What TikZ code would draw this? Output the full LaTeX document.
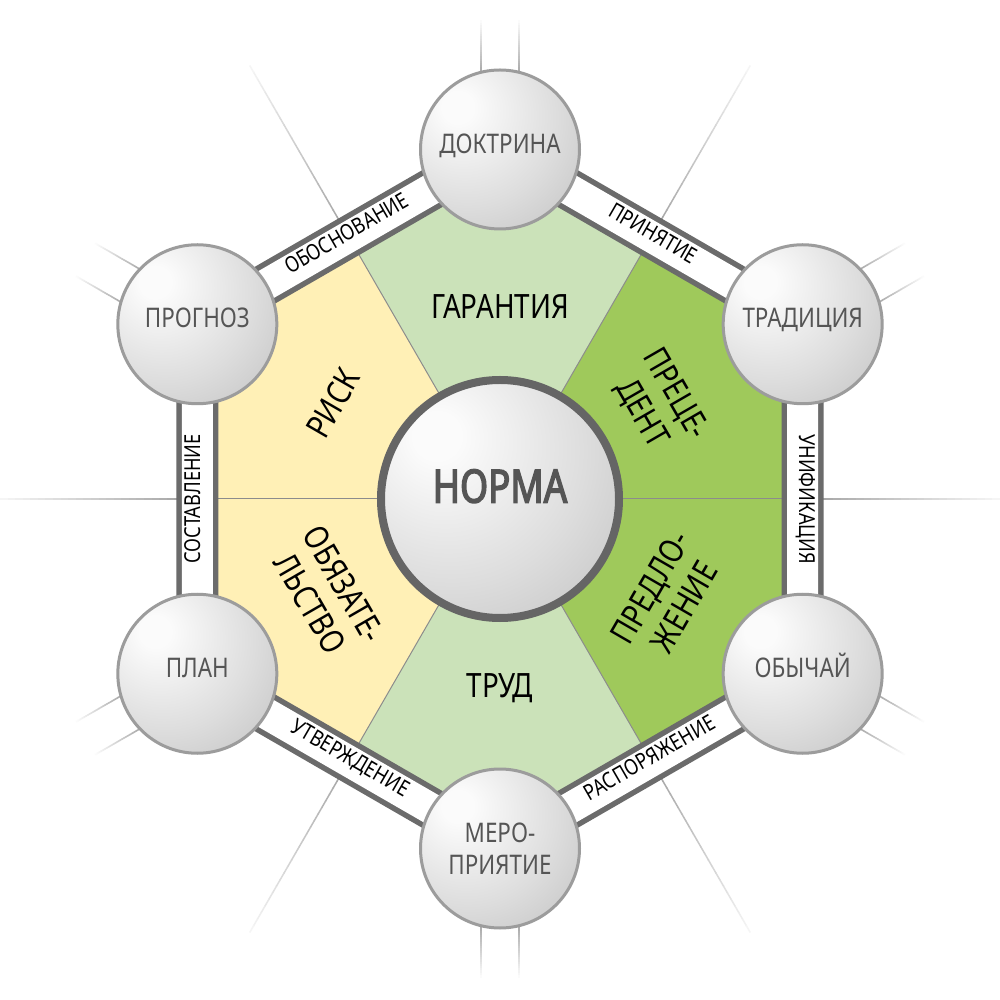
\documentclass[tikz,border=0pt]{standalone}
\usepackage{fontspec}
\setmainfont{Noto Sans}[FakeStretch=0.83]
\newfontfamily\normafont{Noto Sans}[FakeStretch=0.8, FakeBold=3]

\definecolor{cyellow}{HTML}{FFF0B6}
\definecolor{clgreen}{HTML}{CBE2B9}
\definecolor{cgreen}{HTML}{9FC95B}
\definecolor{cband}{HTML}{6B6B6B}
\definecolor{cring}{HTML}{9C9C9C}
\definecolor{cnorm}{HTML}{656565}
\definecolor{ctext}{HTML}{555555}
\definecolor{cdiv}{HTML}{8C8C8C}
\definecolor{cray}{HTML}{A8A8A8}
\definecolor{sphA}{HTML}{FBFBFB}
\definecolor{sphB}{HTML}{DDDDDD}
\definecolor{sphC}{HTML}{BDBDBD}

\pgfdeclareradialshading{sphere}{\pgfpoint{-14bp}{14bp}}{%
  color(0bp)=(sphA); color(5bp)=(sphA); color(28bp)=(sphB); color(50bp)=(sphC); color(100bp)=(sphC)}

\newcommand\rayline[5]{% angle, offset, r start, r end, end percent
  \foreach \ri in {0,...,23}{%
    \pgfmathsetmacro\ra{#3+(#4-#3)*\ri/24}%
    \pgfmathsetmacro\rb{#3+(#4-#3)*(\ri+1)/24+0.6}%
    \pgfmathsetmacro\pc{100-(100-#5)*\ri/23}%
    \draw[rotate=#1, line width=1.5pt, draw=cray!\pc!white] (\ra,#2) -- (\rb,#2);
  }}

\tikzset{
  vnode/.style={circle, minimum size=159pt, inner sep=0pt, shade, shading=sphere,
    draw=cring, line width=3pt, text=ctext, font=\fontsize{27}{31.5}\selectfont},
  onel/.style={text height=0.72em, text depth=0pt},
  hubnode/.style={circle, minimum size=238pt, inner sep=0pt, shade, shading=sphere,
    draw=cnorm, line width=8pt, text=ctext, font=\normafont\fontsize{46}{54}\selectfont},
  sectlbl/.style={align=center, font=\fontsize{33.5}{39}\selectfont, text=black, inner sep=0pt},
  bandlbl/.style={font=\fontsize{22}{26}\selectfont, text=black, inner sep=0pt,
    text height=0.72em, text depth=0pt},
  divline/.style={draw=cdiv, line width=1pt},
  bandouter/.style={draw=cband, line width=42pt, line join=miter},
  bandinner/.style={draw=white, line width=31pt, line join=miter},
}

\begin{document}
\begin{tikzpicture}[x=1pt,y=1pt]
\useasboundingbox (-500,-501) rectangle (500,499);
\fill[white] (-500,-501) rectangle (500,499);

\coordinate (c) at (0,0);
\coordinate (vT) at (90:349.5);
\coordinate (vUL) at (150:349.5);
\coordinate (vLL) at (210:349.5);
\coordinate (vB) at (270:349.5);
\coordinate (vLR) at (330:349.5);
\coordinate (vUR) at (30:349.5);
\foreach \a in {0,60,...,300}{\coordinate (m\a) at (\a:302.7);}

% rays
\foreach \a in {0,60,...,300}{\rayline{\a}{0}{318}{500}{12}}
\foreach \a in {30,90,...,330}{\rayline{\a}{19}{425}{478}{5}\rayline{\a}{-19}{425}{478}{5}}

% sectors
\fill[clgreen] (c) -- (m60) -- (vT) -- (m120) -- cycle;
\fill[cyellow] (c) -- (m120) -- (vUL) -- (m180) -- cycle;
\fill[cyellow] (c) -- (m180) -- (vLL) -- (m240) -- cycle;
\fill[clgreen] (c) -- (m240) -- (vB) -- (m300) -- cycle;
\fill[cgreen] (c) -- (m300) -- (vLR) -- (m0) -- cycle;
\fill[cgreen] (c) -- (m0) -- (vUR) -- (m60) -- cycle;
\foreach \a in {0,60,...,300}{\draw[divline] (c) -- (m\a);}

% band
\draw[bandouter] (vT) -- (vUR) -- (vLR) -- (vB) -- (vLL) -- (vUL) -- cycle;
\draw[bandinner] (vT) -- (vUR) -- (vLR) -- (vB) -- (vLL) -- (vUL) -- cycle;

\path (vT) -- node[bandlbl, rotate=30] (l1) {ОБОСНОВАНИЕ} (vUL);
\path (vT) -- node[bandlbl, rotate=-30] (l2) {ПРИНЯТИЕ} (vUR);
\path (vUR) -- node[bandlbl, rotate=-90] (l3) {УНИФИКАЦИЯ} (vLR);
\path (vLR) -- node[bandlbl, rotate=30] (l4) {РАСПОРЯЖЕНИЕ} (vB);
\path (vB) -- node[bandlbl, rotate=-30] (l5) {УТВЕРЖДЕНИЕ} (vLL);
\path (vLL) -- node[bandlbl, rotate=90] (l6) {СОСТАВЛЕНИЕ} (vUL);

% vertex circles
\node[vnode, onel] (doc) at (vT) {ДОКТРИНА};
\node[vnode, onel] (trad) at (vUR) {ТРАДИЦИЯ};
\node[vnode, onel] (obych) at (vLR) {ОБЫЧАЙ};
\node[vnode, align=center] (merop) at (vB) {МЕРО-\\ПРИЯТИЕ};
\node[vnode, onel] (plan) at (vLL) {ПЛАН};
\node[vnode, onel] (progn) at (vUL) {ПРОГНОЗ};

% hub
\node[hubnode, text height=0.72em, text depth=0pt] (norma) at (c) {НОРМА};

% sector labels
\node[sectlbl] (gar) at (0,193) {ГАРАНТИЯ};
\node[sectlbl] (trud) at (0,-189.5) {ТРУД};
\node[sectlbl, rotate=60] (risk) at (-167,96) {РИСК};
\node[sectlbl, rotate=-60] (obz) at (-173,-95) {ОБЯЗАТЕ-\\ЛЬСТВО};
\node[sectlbl, rotate=-60] (prec) at (158,95) {ПРЕЦЕ-\\ДЕНТ};
\node[sectlbl, rotate=60] (pred) at (167,-98) {ПРЕДЛО-\\ЖЕНИЕ};
\end{tikzpicture}
\end{document}
